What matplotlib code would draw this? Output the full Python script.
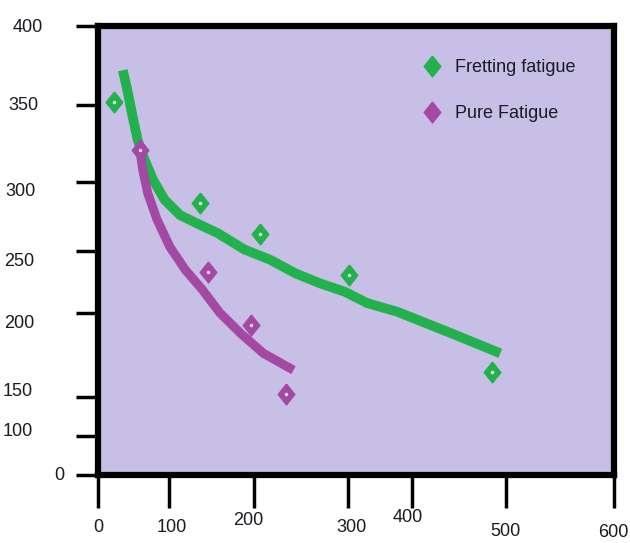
import numpy as np
import matplotlib
matplotlib.use("Agg")
import matplotlib.pyplot as plt
from matplotlib.transforms import ScaledTranslation

# scattered test points
fret_x = [22, 136, 206, 302, 485]
fret_y = [352, 285, 262, 231, 165]
pure_x = [59, 146, 196, 234]
pure_y = [321, 233, 193, 152]

# hand drawn trend lines
fret_fit_x = [35, 42, 49, 56, 66, 78, 94, 113, 133, 157, 189, 217, 244, 270, 297, 330, 377, 437, 494]
fret_fit_y = [372, 358, 342, 327, 314, 301, 287, 276, 270, 263, 251, 243, 232, 224, 217, 208, 201, 189, 176]
pure_fit_x = [59, 63, 70, 83, 101, 119, 139, 160, 184, 210, 242]
pure_fit_y = [321, 308, 292, 273, 253, 235, 219, 200, 188, 176, 166]

x_ticks = [0, 100, 200, 300, 400, 500, 600]
y_ticks = [0, 100, 150, 200, 250, 300, 350, 400]
x_tick_labels = ["0", "100", "200", "300", "400", "500", "600"]
y_tick_labels = ["0", "100", "150", "200", "250", "300", "350", "400"]

# the axes are not evenly spaced: pixel position of each tick
x_tick_px = [98, 169, 254, 348, 412, 506, 614]
y_tick_px = [543 - p for p in [475, 436, 397, 313, 251, 182, 105, 26]]


def piecewise(src, dst):
    src = np.asarray(src, float)
    dst = np.asarray(dst, float)

    def f(v):
        v = np.asarray(v, float)
        out = np.interp(v, src, dst)
        lo_slope = (dst[1] - dst[0]) / (src[1] - src[0])
        hi_slope = (dst[-1] - dst[-2]) / (src[-1] - src[-2])
        out = np.where(v < src[0], dst[0] + (v - src[0]) * lo_slope, out)
        out = np.where(v > src[-1], dst[-1] + (v - src[-1]) * hi_slope, out)
        return out
    return f


plt.rcParams["font.family"] = ["Liberation Sans", "DejaVu Sans"]

GREEN = "#22B14C"
PURPLE = "#A349A4"
BG = "#C8BFE7"
TXT = "#1a1a22"
FS = 13

fig = plt.figure(figsize=(6.3, 5.43), dpi=100)
ax = fig.add_axes([98 / 630, (543 - 475) / 543, 516 / 630, 449 / 543])
ax.set_facecolor(BG)

ax.set_xscale("function", functions=(piecewise(x_ticks, x_tick_px), piecewise(x_tick_px, x_ticks)))
ax.set_yscale("function", functions=(piecewise(y_ticks, y_tick_px), piecewise(y_tick_px, y_ticks)))
ax.set_xlim(0, 600)
ax.set_ylim(0, 400)

diamond = [(0, 1), (0.8, 0), (0, -1), (-0.8, 0), (0, 1)]

ax.plot(fret_fit_x, fret_fit_y, color=GREEN, lw=7, solid_capstyle="butt", solid_joinstyle="round")
ax.plot(pure_fit_x, pure_fit_y, color=PURPLE, lw=6.5, solid_capstyle="butt", solid_joinstyle="round")

h1, = ax.plot(fret_x, fret_y, ls="none", marker=diamond, ms=15, color=GREEN, label="Fretting fatigue")
h2, = ax.plot(pure_x, pure_y, ls="none", marker=diamond, ms=15, color=PURPLE, label="Pure Fatigue")
ax.plot(fret_x, fret_y, ls="none", marker="o", ms=1.5, color="#d8f0dc")
ax.plot(pure_x, pure_y, ls="none", marker="o", ms=1.5, color="#ecd8ec")

leg = ax.legend(handles=[h1, h2], loc="upper left", bbox_to_anchor=(0.630, 0.9265),
                frameon=False, fontsize=FS, handlelength=1.0, handletextpad=0.78,
                labelspacing=1.6, borderpad=0, borderaxespad=0, numpoints=1)
for t in leg.get_texts():
    t.set_color(TXT)

for s in ax.spines.values():
    s.set_linewidth(4.5)
    s.set_color("black")

ax.set_xticks(x_ticks, x_tick_labels)
ax.set_yticks(y_ticks, y_tick_labels)
ax.tick_params(axis="x", direction="out", length=24, width=2.5, pad=8, labelsize=FS, labelcolor=TXT)
ax.tick_params(axis="y", direction="out", length=16, width=2.5, pad=8, labelsize=FS, labelcolor=TXT)
ax.minorticks_off()

# the labels sit a little off their ticks in the original
x_offsets = [(0, 0), (3, 0), (-6, -7), (3, 0), (-4, -10), (-1, 4), (-1, 5)]
y_offsets = [(0, -1), (-32, -7), (-32, -8), (-30, 8), (-30, 8), (-29, 7), (-26, -2), (-22, -1)]
for lbl, (dx, dy) in zip(ax.get_xticklabels(), x_offsets):
    lbl.set_transform(lbl.get_transform() + ScaledTranslation(dx / 100, -dy / 100, fig.dpi_scale_trans))
for lbl, (dx, dy) in zip(ax.get_yticklabels(), y_offsets):
    lbl.set_transform(lbl.get_transform() + ScaledTranslation(dx / 100, -dy / 100, fig.dpi_scale_trans))

fig.savefig("out.png", dpi=100)
